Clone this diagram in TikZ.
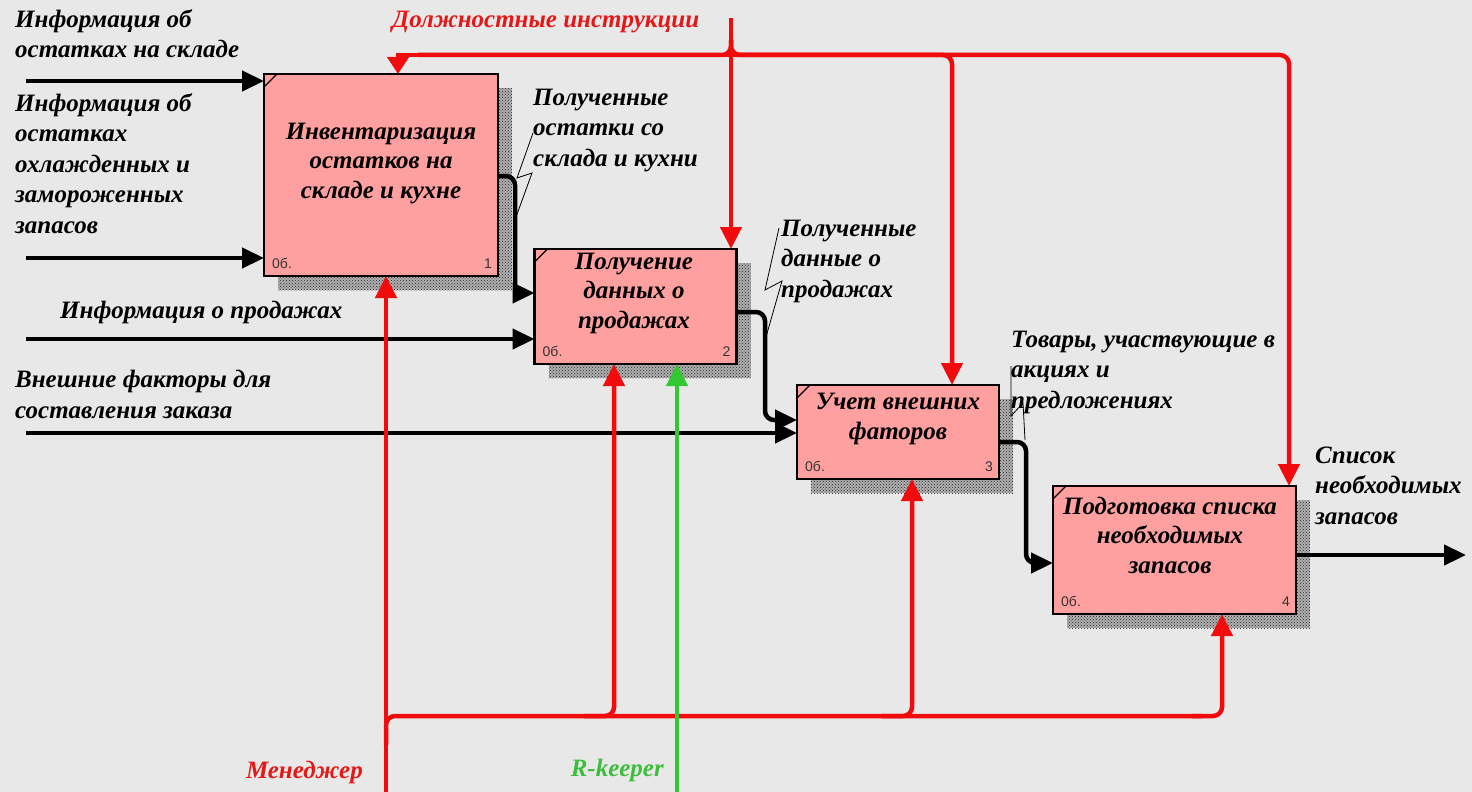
\documentclass[tikz,border=0pt]{standalone}
\usepackage{fontspec}
\setmainfont{Liberation Serif}
\newfontfamily\smallsans{Liberation Sans}
\usetikzlibrary{arrows.meta,patterns,calc}
\pgfdeclarelayer{bglayer}
\pgfdeclarelayer{shadowlayer}
\pgfsetlayers{bglayer,shadowlayer,main}
\definecolor{bgc}{RGB}{232,232,232}
\definecolor{boxc}{RGB}{255,160,160}
\definecolor{redc}{RGB}{240,12,12}
\definecolor{redt}{RGB}{228,24,24}
\definecolor{greenc}{RGB}{50,200,50}
\definecolor{greent}{RGB}{60,190,60}
\definecolor{shadc}{RGB}{175,175,175}
\tikzset{
  box/.style={draw=black, line width=2.6pt, fill=boxc, inner sep=0pt, outer sep=0pt},
  lbl/.style={font=\bfseries\itshape\fontsize{25}{30.5}\selectfont, inner sep=0pt, align=left},
  ttl/.style={lbl, align=center, font=\bfseries\itshape\fontsize{25}{29.5}\selectfont},
  flow/.style={line width=4.5pt, -{Triangle[length=22pt,width=20pt]}, rounded corners=9pt},
  ctrl/.style={flow, draw=redc, -{Triangle[length=22pt,width=21pt]}},
  gmech/.style={flow, draw=greenc, -{Triangle[length=22pt,width=21pt]}},
  redline/.style={line width=4.5pt, draw=redc, rounded corners=9pt},
  leader/.style={line width=0.8pt},
  numtxt/.style={font=\smallsans\fontsize{14}{14}\selectfont, text=black!80, inner sep=0pt},
  tickline/.style={line width=1.2pt},
  shadowfill/.style={fill=shadc, postaction={pattern=crosshatch dots, pattern color=black!85}},
}
\begin{document}
\begin{tikzpicture}[x=1pt,y=-1pt]
\begin{pgfonlayer}{bglayer}
  \fill[bgc] (0,0) rectangle (1472,792);
\end{pgfonlayer}
\useasboundingbox (0,0) rectangle (1472,792);

% boxes
\node[box, minimum width=234pt, minimum height=202pt] (b1) at (381,175) {};
\node[box, minimum width=202pt, minimum height=115pt] (b2) at (635.5,306.5) {};
\node[box, minimum width=202pt, minimum height=94pt] (b3) at (898,432) {};
\node[box, minimum width=243pt, minimum height=128pt] (b4) at (1174.5,550) {};

\begin{pgfonlayer}{shadowlayer}
  \foreach \b in {b1,b2,b3,b4}{
    \path[shadowfill] ($(\b.south west)+(14,14)$) rectangle ($(\b.north east)+(14,14)$);
  }
\end{pgfonlayer}

\foreach \b in {b1,b2,b3,b4}{
  \draw[tickline] ($(\b.north west)+(0,13)$) -- ($(\b.north west)+(13,0)$);
}

% titles (base anchor = baseline of last line)
\node[ttl, anchor=base] (t1) at (381,198) {Инвентаризация\\остатков на\\складе и кухне};
\node[ttl, anchor=base] (t2) at (634,328) {Получение\\данных о\\продажах};
\node[ttl, anchor=base] (t3) at (898,439) {Учет внешних\\фаторов};
\node[ttl, anchor=base] (t4) at (1170,573) {Подготовка списка\\необходимых\\запасов};

% small labels
\node[numtxt, anchor=base west] (c1) at ($(b1.south west)+(8,-8)$) {0б.};
\node[numtxt, anchor=base east] (n1) at ($(b1.south east)+(-6,-8)$) {1};
\node[numtxt, anchor=base west] (c2) at ($(b2.south west)+(8,-8)$) {0б.};
\node[numtxt, anchor=base east] (n2) at ($(b2.south east)+(-6,-8)$) {2};
\node[numtxt, anchor=base west] (c3) at ($(b3.south west)+(8,-8)$) {0б.};
\node[numtxt, anchor=base east] (n3) at ($(b3.south east)+(-6,-8)$) {3};
\node[numtxt, anchor=base west] (c4) at ($(b4.south west)+(8,-8)$) {0б.};
\node[numtxt, anchor=base east] (n4) at ($(b4.south east)+(-6,-8)$) {4};

% arrow labels (base anchor = baseline of last line)
\node[lbl, anchor=base west] (l1) at (15,58) {Информация об\\остатках на складе};
\node[lbl, anchor=base west] (l2) at (15,233) {Информация об\\остатках\\охлажденных и\\замороженных\\запасов};
\node[lbl, anchor=base west] (l3) at (60,318) {Информация о продажах};
\node[lbl, anchor=base west] (l4) at (15,418) {Внешние факторы для\\составления заказа};
\node[lbl, anchor=base west] (l5) at (533,166) {Полученные\\остатки со\\склада и кухни};
\node[lbl, anchor=base west] (l6) at (781,297) {Полученные\\данные о\\продажах};
\node[lbl, anchor=base west] (l7) at (1011,408) {Товары, участвующие в\\акциях и\\предложениях};
\node[lbl, anchor=base west] (l8) at (1315,524) {Список\\необходимых\\запасов};
\node[lbl, anchor=base west, text=redt] (l9) at (392,28) {Должностные инструкции};
\node[lbl, anchor=base east, text=redt] (l10) at (363,778) {Менеджер};
\node[lbl, anchor=base east, text=greent] (l11) at (664,776) {R-keeper};

% inputs
\coordinate (i1) at (26,81);
\coordinate (i2) at (26,258);
\coordinate (i3) at (26,339);
\coordinate (i4) at (26,433);
\draw[flow] (i1) -- (i1 -| b1.west);
\draw[flow] (i2) -- (i2 -| b1.west);
\draw[flow] (i3) -- (i3 -| b2.west);
\draw[flow] (i4) -- (i4 -| b3.west);

% outputs between boxes
\coordinate (k0) at (515,176);
\coordinate (k1) at (515,293);
\coordinate (k2) at (765,312);
\coordinate (k3) at (765,420);
\coordinate (k4) at (1026,442);
\coordinate (k5) at (1026,563);
\coordinate (o4) at (1466,555);
\draw[flow] (k0 -| b1.east) -- (k0) -- (k1) -- (k1 -| b2.west);
\draw[flow] (k2 -| b2.east) -- (k2) -- (k3) -- (k3 -| b3.west);
\draw[flow] (k4 -| b3.east) -- (k4) -- (k5) -- (k5 -| b4.west);
\draw[flow] (o4 -| b4.east) -- (o4);

% leaders
\draw[leader] (533,133) -- (517,178) -- (532,173) -- (516,217);
\draw[leader] (779,228) -- (765,290) -- (782,281) -- (766,337);
\draw[leader] (1011,366) -- (1011,416) -- (1023,403) -- (1025,440);

% controls
\coordinate (c0) at (731,18);
\coordinate (cj) at (731,40);
\coordinate (cL) at (398,55);
\coordinate (cM) at (952,55);
\coordinate (cR) at (1289,55);
\draw[ctrl, rounded corners=0pt, -{Triangle[length=17pt,width=21pt]}] (cj |- cL) -- (cL) -- (cL |- b1.north);
\draw[redline] (cj) -- (cj |- cL) -- ($(cL)+(20,0)$);
\draw[ctrl] (cj) -- (cj |- cM) -- (cM) -- (cM |- b3.north);
\draw[ctrl] (cj |- cM) -- (cR) -- (cR |- b4.north);
\draw[ctrl] (c0) -- (c0 |- b2.north);

% mechanisms
\coordinate (m0) at (386,792);
\coordinate (mh) at (386,716);
\coordinate (m2) at (614,716);
\coordinate (m3) at (912,716);
\coordinate (m4) at (1222,716);
\draw[redline] (386,745) -- (mh) -- ($(m4)+(-20,0)$);
\draw[ctrl] ($(m4)+(-30,0)$) -- (m4) -- (m4 |- b4.south);
\draw[ctrl] ($(m2)+(-30,0)$) -- (m2) -- (m2 |- b2.south);
\draw[ctrl] ($(m3)+(-30,0)$) -- (m3) -- (m3 |- b3.south);
\draw[ctrl] (m0) -- (m0 |- b1.south);
\coordinate (g0) at (677,792);
\draw[gmech] (g0) -- (g0 |- b2.south);
\end{tikzpicture}
\end{document}
